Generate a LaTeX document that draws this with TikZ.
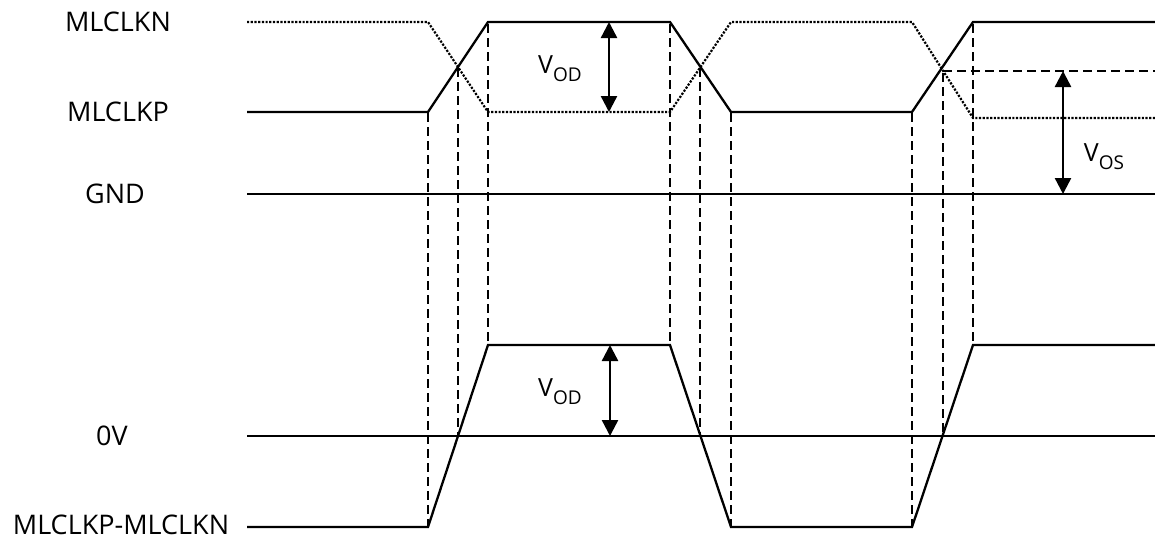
\documentclass[tikz,border=0pt]{standalone}
\usepackage{fontspec}
\setmainfont{Open Sans}
\usetikzlibrary{arrows.meta}
\newcommand{\vsub}[1]{V\raisebox{-8pt}{\fontsize{19}{19}\selectfont #1}}
\begin{document}
\begin{tikzpicture}[x=1pt,y=-1pt,
  sig/.style={line width=2.3pt,line join=miter},
  dotsig/.style={line width=2.2pt,dash pattern=on 2.2pt off 1.5pt},
  guide/.style={line width=2.2pt,dash pattern=on 9pt off 5pt},
  dimarrow/.style={line width=2.4pt,{Triangle[width=16pt,length=16pt]}-{Triangle[width=16pt,length=16pt]}},
  lbl/.style={font=\fontsize{27}{30}\selectfont,inner sep=0pt,anchor=center},
  vlbl/.style={font=\fontsize{25}{28}\selectfont,inner sep=0pt,anchor=center}]
\useasboundingbox (0,0) rectangle (1155,539);
% labels
\node[lbl] (lN) at (118,22) {MLCLKN};
\node[lbl] (lP) at (118,112) {MLCLKP};
\node[lbl] (lG) at (115,194) {GND};
\node[lbl] (l0) at (112,436) {0V};
\node[lbl] (lD) at (121,525) {MLCLKP-MLCLKN};
% coordinates
\coordinate (s0) at (247,112);
\coordinate (s1) at (428,112);
\coordinate (s2) at (488,22);
\coordinate (s3) at (670,22);
\coordinate (s4) at (731,112);
\coordinate (s5) at (912,112);
\coordinate (s6) at (973,22);
\coordinate (s7) at (1155,22);
\coordinate (n0) at (247,22);
\coordinate (n1) at (428,22);
\coordinate (n2) at (488,112);
\coordinate (n3) at (670,112);
\coordinate (n4) at (731,22);
\coordinate (n5) at (912,22);
\coordinate (n6) at (973,118);
\coordinate (n7) at (1155,118);
\coordinate (b0) at (247,527);
\coordinate (b1) at (428,527);
\coordinate (b2) at (488,345);
\coordinate (b3) at (670,345);
\coordinate (b4) at (731,527);
\coordinate (b5) at (912,527);
\coordinate (b6) at (973,345);
\coordinate (b7) at (1155,345);
% MLCLKP solid
\draw[sig] (s0)--(s1)--(s2)--(s3)--(s4)--(s5)--(s6)--(s7);
% MLCLKN dotted
\draw[dotsig] (n0)--(n1)--(n2)--(n3)--(n4)--(n5)--(n6)--(n7);
% GND and 0V
\coordinate (g0) at (247,194); \coordinate (g1) at (1155,194);
\coordinate (z0) at (247,436); \coordinate (z1) at (1155,436);
\draw[sig] (g0) -- (g1);
\draw[sig] (z0) -- (z1);
% differential
\draw[sig] (b0)--(b1)--(b2)--(b3)--(b4)--(b5)--(b6)--(b7);
% guides
\draw[guide] (428,113) -- (428,527);
\draw[guide] (458,68) -- (458,436);
\draw[guide] (488,24) -- (488,343);
\draw[guide] (670,24) -- (670,343);
\draw[guide] (700,68) -- (700,436);
\draw[guide] (731,113) -- (731,527);
\draw[guide] (912,113) -- (912,527);
\draw[guide] (943,73) -- (943,436);
\draw[guide] (973,24) -- (973,343);
\coordinate (os0) at (943,71); \coordinate (os1) at (1155,71);
\draw[guide] (os0) -- (os1);
% dimension arrows
\coordinate (a1t) at (609,22); \coordinate (a1b) at (609,112);
\coordinate (a2t) at (610,345); \coordinate (a2b) at (610,436);
\coordinate (a3t) at (1063,71); \coordinate (a3b) at (1063,194);
\draw[dimarrow] (a1t) -- (a1b);
\draw[dimarrow] (a2t) -- (a2b);
\draw[dimarrow] (a3t) -- (a3b);
\node[vlbl] (vod1) at (560,69) {\vsub{OD}};
\node[vlbl] (vod2) at (560,392) {\vsub{OD}};
\node[vlbl] (vos) at (1104,157) {\vsub{OS}};
\end{tikzpicture}
\end{document}
